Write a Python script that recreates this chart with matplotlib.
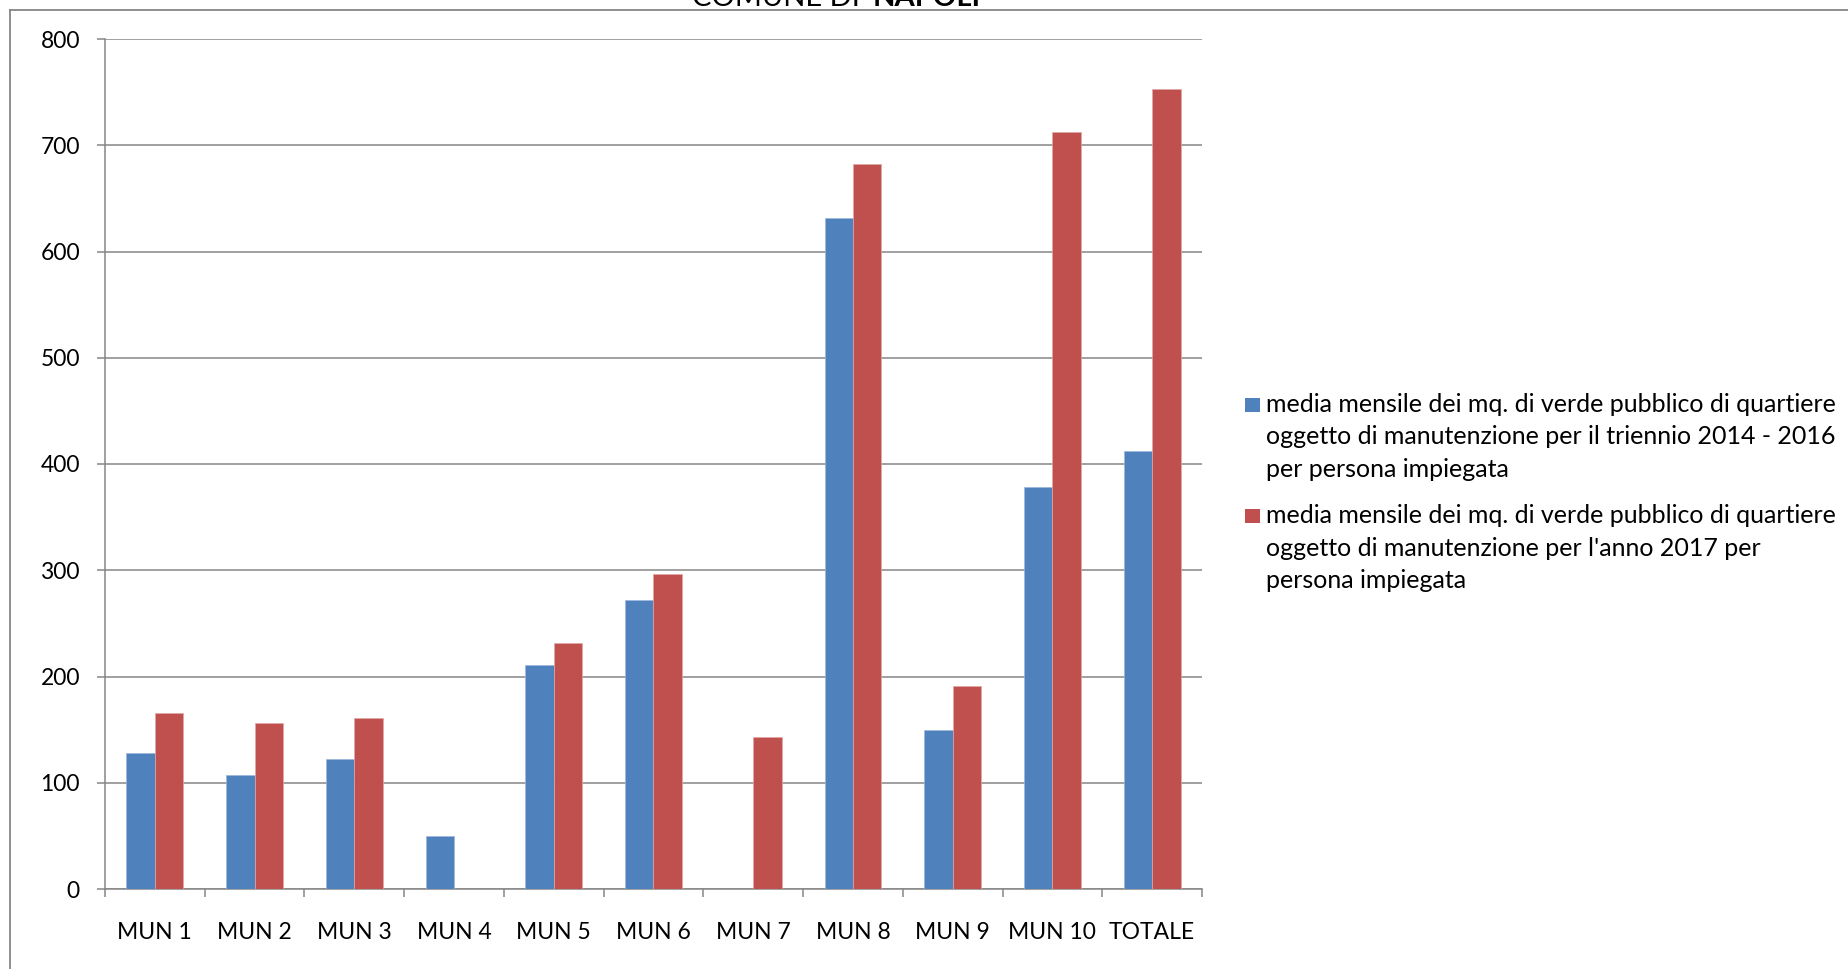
import matplotlib
matplotlib.use("Agg")
import matplotlib.pyplot as plt
import numpy as np
from matplotlib.patches import Rectangle
from matplotlib.lines import Line2D
from matplotlib.ticker import FixedLocator, NullFormatter

plt.rcParams['font.family'] = ['Lato', 'DejaVu Sans']

categories = ["MUN 1", "MUN 2", "MUN 3", "MUN 4", "MUN 5", "MUN 6",
              "MUN 7", "MUN 8", "MUN 9", "MUN 10", "TOTALE"]
series_2014_2016 = [127.7, 107.6, 122.7, 49.9, 210.8, 272.3, 0, 631.8, 149.3, 378.0, 411.8]
series_2017 = [165.3, 156.5, 161.2, 0, 231.5, 296.8, 143.4, 682.0, 191.3, 712.2, 752.9]
series_labels = [
    "media mensile dei mq. di verde pubblico di quartiere\noggetto di manutenzione per il triennio 2014 - 2016\nper persona impiegata",
    "media mensile dei mq. di verde pubblico di quartiere\noggetto di manutenzione per l'anno 2017 per\npersona impiegata",
]
y_ticks = [0, 100, 200, 300, 400, 500, 600, 700, 800]
title_normal = "COMUNE DI"
title_bold = "NAPOLI"

blue = "#4F81BD"
red = "#C0504D"
grey = "#868686"

W, H = 1849, 969
fig = plt.figure(figsize=(W / 100, H / 100), dpi=100)
fig.patch.set_facecolor("white")

def fx(px):
    return px / W

def fy(py):
    return 1 - py / H

ax = fig.add_axes([fx(105), fy(889), fx(1202) - fx(105), fy(39) - fy(889)])

x = np.arange(len(categories))
w = 0.285
ax.bar(x - w / 2, series_2014_2016, width=w, color=blue, edgecolor="#9DB7DD", linewidth=0.5, zorder=3)
ax.bar(x + w / 2, series_2017, width=w, color=red, edgecolor="#E0A7A6", linewidth=0.5, zorder=3)

ax.set_xlim(-0.5, len(categories) - 0.5)
ax.set_ylim(0, 800)
ax.set_yticks(y_ticks)
ax.set_yticklabels([str(v) for v in y_ticks])
ax.yaxis.grid(True, color=grey, linewidth=1.1, zorder=1)
ax.set_axisbelow(True)

ax.set_xticks(x)
ax.set_xticklabels(categories)
ax.xaxis.set_minor_locator(FixedLocator(np.arange(-0.5, len(categories), 1.0)))
ax.xaxis.set_minor_formatter(NullFormatter())
ax.tick_params(axis="x", which="major", length=0, pad=23.5, labelsize=16.5, colors="black")
ax.tick_params(axis="x", which="minor", length=6, width=1.1, color=grey, direction="out")
ax.tick_params(axis="y", which="major", length=6, width=1.1, color=grey, direction="out",
               pad=12, labelsize=16.5, labelcolor="black")

for s in ["top", "right"]:
    ax.spines[s].set_visible(False)
for s in ["left", "bottom"]:
    ax.spines[s].set_color(grey)
    ax.spines[s].set_linewidth(1.1)

# outer chart frame
fig.add_artist(Line2D([fx(10), fx(10)], [fy(10), fy(975)], color=grey, linewidth=1.3))
fig.add_artist(Line2D([fx(10), fx(1855)], [fy(10), fy(10)], color=grey, linewidth=1.3))

# title (mostly cut off at top, as in the reference)
fig.text(fx(860), fy(5.5), title_normal, ha="right", va="baseline", fontsize=21, color="black")
fig.text(fx(873), fy(5.5), title_bold, ha="left", va="baseline", fontsize=21, fontweight="bold", color="black")

# legend
colors = [blue, red]
first_baselines = [411.7, 523.3]
line_step = 32.5
for lab, col, b0 in zip(series_labels, colors, first_baselines):
    fig.add_artist(Rectangle((fx(1245), fy(b0)), fx(1260) - fx(1245), fy(b0 - 14) - fy(b0),
                             transform=fig.transFigure, facecolor=col, edgecolor="none"))
    for i, line in enumerate(lab.split("\n")):
        fig.text(fx(1266.5), fy(b0 + i * line_step), line, ha="left", va="baseline",
                 fontsize=18, color="black")

fig.savefig("out.png", dpi=100, facecolor="white")
